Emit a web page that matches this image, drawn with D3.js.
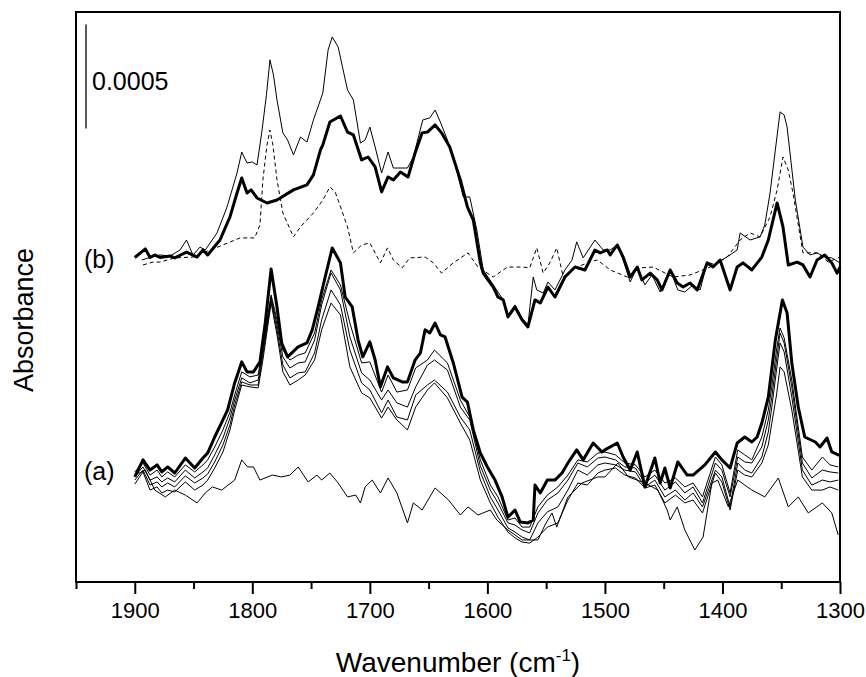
<!DOCTYPE html>
<html>
<head>
<meta charset="utf-8">
<script src="https://cdn.jsdelivr.net/npm/d3@7"></script>
<style>
body { margin: 0; background: #fff; }
text { font-family: Arial, "Liberation Sans", sans-serif; fill: #000; }
</style>
</head>
<body>
<svg width="866" height="677"></svg>
<script>
// absorbance values are in units of 1e-5
var majorTicks = [1900, 1800, 1700, 1600, 1500, 1400, 1300];
var minorTicks = [1950, 1850, 1750, 1650, 1550, 1450, 1350];

var offsetA = 50;
var offsetB = 156;
var scaleBarBase = 218;
var scaleBarLength = 50; // 0.0005

// (b) thick
var bThick = [[1900,0],[1891,4.1],[1887,0],[1883,1.2],[1878.5,0],[1870,0.7],[1866,-0.2],[1856,2.6],[1847,0.2],[1842,3.6],[1838,1.2],[1827.5,8.4],[1819,19.5],[1813,31],[1809,38.2],[1804.5,31],[1801,32.5],[1796,28.6],[1787.5,26.2],[1779,27.6],[1765,32.5],[1753.5,34.9],[1748,39.7],[1742,51.7],[1740,54.1],[1734,65.1],[1725,68],[1719,60.3],[1714,58.9],[1707,46.9],[1701.5,48.3],[1695.5,43.5],[1690,31.5],[1684.5,38.7],[1680,37.3],[1674,41.1],[1667.5,38.7],[1661.5,50.2],[1655.5,59.9],[1651,60.3],[1644.5,63.7],[1639,59.9],[1632,53.1],[1623,37.3],[1617,24.3],[1612,18],[1606,-2.6],[1603.5,-7.5],[1599.5,-10.8],[1595,-14.2],[1591,-19],[1586.5,-20.4],[1582.5,-28.6],[1576.5,-23.8],[1570.5,-30],[1565.5,-33.4],[1559.5,-20.4],[1555,-21.9],[1548.5,-14.2],[1542.5,-19],[1534,-9.4],[1525.5,-4.6],[1517,-6],[1508.5,3.6],[1504,2.2],[1498,3.6],[1495.5,1.2],[1489.5,6],[1484.5,0.2],[1478.5,-9.4],[1472.5,-4.6],[1468.5,-10.8],[1461.5,-7.5],[1455.5,-10.8],[1451.5,-15.6],[1444.5,-6],[1438.5,-12.3],[1433.5,-14.2],[1427.5,-12.3],[1421.5,-15.6],[1413,-2.6],[1408,-4.6],[1402,-1.2],[1393.5,-15.6],[1387.5,-4.6],[1382.5,-2.6],[1375,-6],[1366.5,0.2],[1361,8.4],[1353.5,26.2],[1348.5,14.7],[1344,-3.6],[1336.5,-2.2],[1331.5,-3.6],[1325.5,-9.4],[1319.5,-1.2],[1313,1.2],[1307,-2.6],[1302.5,-7.5],[1300,-4.6]];

// (b) thin
var bThin = [[1894,-1.2],[1887,0],[1878.5,1.2],[1870,0.7],[1861.5,3.6],[1856,8.4],[1850.5,1.2],[1844.5,5],[1840,3.6],[1830,11.8],[1821.5,24.3],[1813,40.6],[1809,50.7],[1804.5,45.4],[1800,45.9],[1796,44.5],[1792,59.9],[1788,78],[1785,95],[1782,87.7],[1779,75.7],[1774,59.9],[1770,56.5],[1765,49.3],[1759,57.9],[1753.5,55.5],[1748,66.1],[1740,79.1],[1735.5,99.8],[1732,106],[1727,101.2],[1719,80.5],[1714,75.7],[1708,55],[1704,56.5],[1700,62.7],[1695.5,53.1],[1690,40.6],[1684.5,50.7],[1680,43],[1668,43],[1663,48.3],[1655,66.1],[1649,67.1],[1644.5,70.9],[1640,65.1],[1634,56.5],[1627.5,44.5],[1620.5,29.1],[1615,29.1],[1609,13.2],[1603.5,-6],[1595,-13.2],[1586.5,-20.4],[1582.5,-27.6],[1576.5,-22.8],[1570.5,-29.1],[1565.5,-32.5],[1561,-9.4],[1558,-15.6],[1552.5,-17.1],[1548.5,-11.8],[1542.5,-15.6],[1534,-6],[1528,-1.2],[1524,7.5],[1518.5,-0.2],[1508.5,8.4],[1501.5,3.6],[1495.5,3.6],[1489.5,6],[1484.5,-1.2],[1478.5,-11.8],[1472.5,-4.6],[1466,-13.2],[1460,-8.4],[1453,-16.6],[1444.5,-6],[1438,-15.6],[1432,-16.6],[1425,-13.2],[1419,-15.6],[1413,-2.2],[1406,-3.6],[1400.5,-1.2],[1393.5,1.2],[1387.5,3.6],[1385,11.8],[1376.5,8.4],[1368,9.9],[1364,15.6],[1359.5,31],[1355,51.7],[1351,70],[1347.5,68.5],[1345,62.7],[1338,27.6],[1331.5,5],[1325.5,1.2],[1319.5,2.2],[1313,0.2],[1307,-0.2],[1300,-2.6]];

// (b) dashed
var bDashed = [[1893,-3.6],[1884.5,-2.2],[1878.5,-2.2],[1866,-0.2],[1850.5,0.2],[1842,2.2],[1825,6],[1810.5,9.4],[1798,9.4],[1793.5,15.6],[1791,37.3],[1787.5,54.1],[1785,61.3],[1782.5,54.1],[1779,37.3],[1774,21.4],[1765,9.9],[1759,14.7],[1748,21.4],[1740,27.6],[1734,33.9],[1729.5,31.5],[1727,27.6],[1719,14.7],[1714,2.2],[1707,6],[1700,7],[1691,-2.6],[1685,4.6],[1680,-1.2],[1672.5,-5],[1666,-0.2],[1653,0.2],[1646,-2.6],[1639,-7.5],[1629,-2.6],[1616.5,2.2],[1608,-4.6],[1595,-9.4],[1583,-4.6],[1570,-4.6],[1564,-5],[1558,4.6],[1552.5,-7.5],[1546.5,-2.2],[1541,4.6],[1535.5,-9.4],[1525.5,-5],[1513,-2.2],[1506.5,-1.2],[1495.5,-6],[1481,-9.4],[1470,-5],[1459,-4.6],[1442,-9.4],[1427.5,-8.4],[1410.5,-4.6],[1396,0.2],[1385,8.4],[1376.5,11.8],[1368,9.9],[1359.5,19.5],[1353.5,32.5],[1348.5,48.3],[1344,42],[1340,31],[1331.5,2.2],[1319.5,2.2],[1310,-2.2],[1300,0.2]];

// (a) thick
var aThick = [[1900,0.5],[1893,8.7],[1887,3.8],[1881,6.3],[1877,2.9],[1872,5.3],[1866,2.4],[1857,9.6],[1849,4.8],[1842,9.6],[1838,12],[1832,19.7],[1825,27.9],[1821,32.7],[1815,45.7],[1809,55.8],[1804.5,51],[1799,51],[1793.5,55.8],[1789,74.5],[1784,100.5],[1779,82.2],[1775,64.9],[1770,58.2],[1761,63],[1753.5,64.9],[1749,71.2],[1744,82.2],[1738,96.6],[1732,110.6],[1725,103.4],[1721,87],[1715,82.2],[1710,66.3],[1706,58.2],[1700,65.4],[1695.5,56.7],[1691,43.8],[1685,53.4],[1680,48.1],[1672.5,46.2],[1668,46.2],[1661.5,56.7],[1657,60.1],[1653,71.2],[1649,69.7],[1644.5,74.5],[1640,68.8],[1636,67.8],[1629,55.3],[1621.5,38.9],[1617,36.5],[1612,23.1],[1606,12],[1600,5.3],[1593.5,-1],[1587.5,-9.1],[1582.5,-18.8],[1576.5,-15.4],[1572,-21.2],[1565.5,-21.6],[1561,-20.2],[1559.5,-3.4],[1555,-7.2],[1549,-1],[1542.5,-1],[1536.5,2.4],[1531.5,7.2],[1524,13.5],[1518.5,8.7],[1510,16.8],[1502.5,12.5],[1500,13.5],[1489.5,16.8],[1484.5,10.1],[1478.5,3.8],[1472.5,12.5],[1466,-4.3],[1457.5,9.6],[1453,-2.4],[1449,4.8],[1444.5,-4.8],[1438,7.7],[1430,1.4],[1425,1.4],[1415,6.3],[1406,12.5],[1400.5,8.7],[1393.5,4.8],[1387.5,16.8],[1381,19.7],[1375,17.3],[1370.5,19.7],[1366.5,26.4],[1361,38.9],[1355,66.3],[1349,85.6],[1345,79.3],[1341,55.3],[1335.5,34.1],[1330,19.7],[1321,17.3],[1317,14.9],[1311,19.2],[1307,12.5],[1301.5,11.1],[1300,11.1]];

// (a) thin spectra, shared wavenumbers
var aThinWn = [1900,1893,1887,1881,1877,1872,1866,1857,1849,1842,1838,1832,1825,1819,1815,1809,1802,1795,1791,1784,1779,1774,1768,1761,1755,1747,1741,1733,1725,1717,1707,1700,1690,1684.5,1677,1668,1661,1651,1645,1634,1623,1615,1606,1597.5,1591,1582.5,1576.5,1570.5,1564,1557,1549,1540,1531.5,1523,1515,1506,1500,1491,1483,1474,1466,1457.5,1449,1440,1432,1425,1417,1406,1400.5,1393.5,1387,1381,1375,1366.5,1361,1358,1354,1351,1347.5,1341,1332,1324,1315,1308.5,1301.5];
var aThin1 = [2.9,7.2,1.4,3.8,0.5,2.9,0.5,6.3,2.9,6.3,8.7,14.9,23.1,31.7,39.9,51,48.6,49.5,63.9,88,76,61.5,56.7,59.1,60.1,69.7,85.6,100,92.8,74.5,55.3,55.8,41.3,49.5,41.3,42.3,52.9,56.7,61.5,55.3,37.5,29.3,8.7,-3.4,-9.1,-20.2,-19.2,-23.6,-23.6,-13.9,-8.2,-4.3,1.4,8.7,7.7,12,12.5,11.1,7.2,6.3,0.5,3.8,-2.4,0,-4.3,-2.4,-9.1,10.1,6.3,-7.2,13.5,11.1,8.7,19.7,32.7,43.8,61.5,72.1,67.3,47.1,10.1,3.8,10.1,6.3,5.3];
var aThin2 = [1,5.3,-1,0.5,-1.9,0,-1.9,3.8,0,2.9,4.8,11.1,19.2,28.8,37.5,48.1,45.7,47.1,61.5,87,73.6,58.2,52.9,55.3,55.8,66.3,83.2,98.6,90.4,67.8,50.5,47.1,37.5,42.3,36.1,34.1,43.8,54.3,56.7,51.9,34.1,27.9,5.8,-5.8,-12,-21.6,-22.6,-25,-26.4,-16.8,-10.6,-7.2,-1,7.2,5.3,9.6,10.1,8.7,5.3,4.8,-2.4,1.4,-5.8,-1.9,-7.2,-4.3,-12,7.2,3.8,-9.1,10.1,7.7,7.2,14.9,27.9,38.9,56.7,69.7,64.9,43.8,7.2,0,3.8,2.9,2.4];
var aThin3 = [-1,3.8,-3.4,-1.9,-4.3,-2.4,-4.3,1,-2.4,0,1.9,7.7,15.9,25.5,35.1,46.2,44.7,44.7,59.1,85.6,71.2,54.3,48.1,50.5,51,60.1,76,90.4,83.2,61.5,45.7,42.3,31.3,37.5,29.3,27.9,39.9,44.7,47.1,41.3,29.3,23.1,2.9,-9.1,-15.4,-24,-26,-28.4,-29.8,-21.6,-16.3,-13.9,-5.8,3.8,1.4,6.3,7.2,6.3,3.8,2.9,-4.3,-1,-9.1,-5.8,-10.6,-7.2,-13.9,3.8,0.5,-13.9,7.2,3.8,2.4,10.1,22.1,34.1,51.9,64.9,60.6,38.9,3.8,-3.4,-1,-1.9,-1];
var aThin4 = [-2.9,2.9,-5.8,-4.3,-7.2,-5.8,-6.7,-1.9,-5.8,-3.4,-1,4.8,12.5,23.1,32.7,44.7,43.8,43.3,56.7,84.1,68.8,51,44.7,47.1,49.5,56.7,71.2,84.1,78.4,53.4,40.9,38.5,28.8,34.1,27.9,23.1,34.1,42.3,45.7,38.5,26.4,18.3,-1,-12,-18.8,-26,-28.8,-30.8,-31.3,-28.4,-23.6,-21.6,-10.6,-2.4,-3.4,2.4,3.8,4.8,1.4,0,-4.8,-3.4,-12,-8.2,-12,-10.6,-16.8,2.4,-1.9,-15.4,3.8,1.4,0.5,7.2,15.9,26.4,39.9,53.4,51,32.7,0.5,-5.8,-5.8,-4.3,-5.8];

// (a) lowest, nearly flat spectrum
var aFlat = [[1900,1.4],[1891,3.8],[1883,-5.8],[1874,-9.1],[1866,-5.8],[1857,-8.2],[1847,-12],[1840,-7.2],[1834,-4.3],[1826,-5.8],[1815,-1],[1809,8.7],[1804,5.3],[1799,5.3],[1793.5,-1],[1783,1.4],[1775,0.5],[1768,1.4],[1761,5.3],[1752.5,-1.9],[1745,1.4],[1741,-1],[1734,2.4],[1727,-2.4],[1719,-9.1],[1712,-8.2],[1708,-12],[1704,-4.3],[1698,-1],[1691,-7.2],[1684.5,0],[1677,-7.2],[1668,-21.6],[1663,-12],[1655.5,-15.4],[1644.5,-4.8],[1633,-10.6],[1623,-17.8],[1616.5,-13.9],[1608,-17.8],[1597.5,-15.4],[1592,-20.2],[1582.5,-25],[1570.5,-29.8],[1557,-29.8],[1551,-22.6],[1545,-16.8],[1541,-23.6],[1531.5,-9.1],[1519.5,-2.4],[1506,0.5],[1500,0.5],[1489,7.2],[1480,0.5],[1466,-2.4],[1455,-5.8],[1447,-15.4],[1444.5,-20.2],[1438.5,-13.9],[1432,-25],[1423.5,-34.6],[1416.5,-28.4],[1409,-2.4],[1404,-1],[1395,-13.9],[1387,-1],[1375,-5.8],[1364,-9.1],[1352.5,0],[1344,-13.9],[1335.5,-9.1],[1327,-16.8],[1315,-12],[1307,-16.8],[1301.5,-27.4]];

var svg = d3.select("svg");
var plotLeft = 76, plotRight = 840, plotTop = 12, plotBottom = 582;

var x = d3.scaleLinear().domain([1950, 1300]).range([plotLeft, plotRight]);
var y = d3.scaleLinear().domain([0, 274]).range([plotBottom, plotTop]);

function lineAt(offset) {
    return d3.line()
        .x(function(d) { return x(d[0]); })
        .y(function(d) { return y(d[1] + offset); });
}

function drawSpectrum(data, offset, width, dash) {
    var p = svg.append("path")
        .datum(data)
        .attr("fill", "none")
        .attr("stroke", "#000")
        .attr("stroke-width", width)
        .attr("stroke-linejoin", "round")
        .attr("d", lineAt(offset));
    if (dash) p.attr("stroke-dasharray", dash);
}

[aThin1, aThin2, aThin3, aThin4].forEach(function(vals) {
    drawSpectrum(d3.zip(aThinWn, vals), offsetA, 1);
});
drawSpectrum(aFlat, offsetA, 1);
drawSpectrum(aThick, offsetA, 3);

drawSpectrum(bDashed, offsetB, 1, "4,3");
drawSpectrum(bThin, offsetB, 1);
drawSpectrum(bThick, offsetB, 3);

// frame
svg.append("rect")
    .attr("x", plotLeft)
    .attr("y", plotTop)
    .attr("width", plotRight - plotLeft)
    .attr("height", plotBottom - plotTop)
    .attr("fill", "none")
    .attr("stroke", "#000")
    .attr("stroke-width", 2);

// bottom axis
var xAxis = svg.append("g")
    .attr("transform", "translate(0," + plotBottom + ")")
    .call(d3.axisBottom(x).tickValues(majorTicks).tickSize(12).tickPadding(8).tickFormat(d3.format("d")));
xAxis.select(".domain").remove();
xAxis.selectAll("line").attr("stroke-width", 2);
xAxis.selectAll("text").style("font-size", "22px").style("font-family", "Arial, 'Liberation Sans', sans-serif");

var xMinor = svg.append("g")
    .attr("transform", "translate(0," + plotBottom + ")")
    .call(d3.axisBottom(x).tickValues(minorTicks).tickSize(7).tickFormat(""));
xMinor.select(".domain").remove();
xMinor.selectAll("line").attr("stroke-width", 2);

// scale bar
svg.append("line")
    .attr("x1", 86).attr("x2", 86)
    .attr("y1", y(scaleBarBase)).attr("y2", y(scaleBarBase + scaleBarLength))
    .attr("stroke", "#000")
    .attr("stroke-width", 1.3);
svg.append("text")
    .attr("x", 92).attr("y", 90)
    .style("font-size", "25px")
    .text("0.0005");

svg.append("text").attr("x", 84).attr("y", 268).style("font-size", "25px").text("(b)");
svg.append("text").attr("x", 84).attr("y", 480).style("font-size", "25px").text("(a)");

// axis titles
var xt = svg.append("text")
    .attr("x", (plotLeft + plotRight) / 2)
    .attr("y", 672)
    .attr("text-anchor", "middle")
    .style("font-size", "28px");
xt.append("tspan").text("Wavenumber (cm");
xt.append("tspan").attr("dy", -11).style("font-size", "17px").text("-1");
xt.append("tspan").attr("dy", 11).text(")");

svg.append("text")
    .attr("transform", "translate(33,320) rotate(-90)")
    .attr("text-anchor", "middle")
    .style("font-size", "27px")
    .text("Absorbance");
</script>
</body>
</html>
